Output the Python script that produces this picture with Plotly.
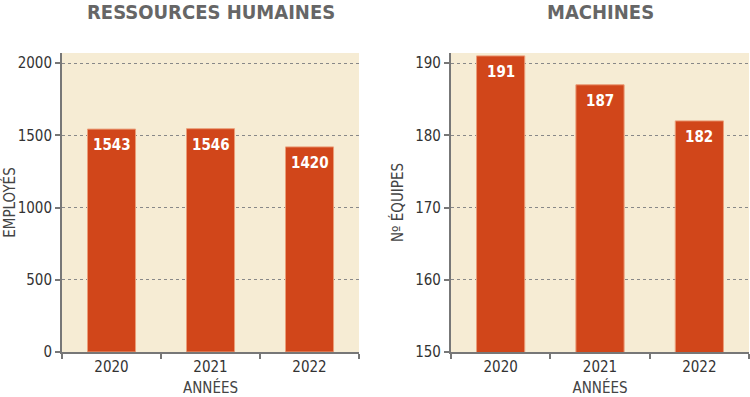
import plotly.graph_objects as go
from plotly.subplots import make_subplots

years = ["2020", "2021", "2022"]
employees = [1543, 1546, 1420]
machines = [191, 187, 182]

FONT = "DejaVu Sans Condensed, Liberation Sans Narrow, Roboto, sans-serif"
BAR = "#d1461a"
BG = "#f6ecd4"
GRID = "#888888"
AX = "#777777"

fig = make_subplots(rows=1, cols=2)

for vals, col in [(employees, 1), (machines, 2)]:
    fig.add_trace(go.Bar(x=years, y=vals, marker=dict(color=BAR, line=dict(color="#eb9d78", width=1)),
                         showlegend=False), row=1, col=col)
    sfx = "" if col == 1 else str(col)
    for i, v in enumerate(vals):
        fig.add_annotation(x=i, y=v, xref="x" + sfx, yref="y" + sfx, text=f"<b>{v}</b>", showarrow=False,
                           xanchor="center", yanchor="top", yshift=-5,
                           font=dict(family=FONT, size=15, color="white"))

ax_common = dict(showline=True, linecolor=AX, linewidth=2, ticks="outside", tickcolor=AX, ticklen=5,
                 tickwidth=1.5, tickfont=dict(family=FONT, size=15, color="#333333"), automargin=False)
fig.update_xaxes(**ax_common, type="category", tickson="boundaries", showgrid=False, tickangle=0,
                 title=dict(text="ANNÉES", font=dict(family=FONT, size=15, color="#444444"), standoff=16))
fig.update_yaxes(**ax_common, showgrid=True, gridcolor=GRID, griddash="dot", gridwidth=1, zeroline=False)

fig.update_layout(
    width=750, height=397, margin=dict(l=0, r=0, t=0, b=0),
    paper_bgcolor="white", plot_bgcolor=BG, bargap=0.515,
    xaxis=dict(domain=[0.0827, 0.4787]),
    xaxis2=dict(domain=[0.6013, 0.9987]),
    yaxis=dict(domain=[0.1134, 0.8665], range=[0, 2070], tickvals=[0, 500, 1000, 1500, 2000],
               title=dict(text="EMPLOYÉS", font=dict(family=FONT, size=15, color="#444444"), standoff=8)),
    yaxis2=dict(domain=[0.1134, 0.8665], range=[150, 191.4], tickvals=[150, 160, 170, 180, 190],
                title=dict(text="Nº ÉQUIPES", font=dict(family=FONT, size=15, color="#444444"), standoff=8)),
)

for xc, t in [(0.2807, "RESSOURCES HUMAINES"), (0.80, "MACHINES")]:
    fig.add_annotation(x=xc, y=1.0, xref="paper", yref="paper", yanchor="top", xanchor="center", yshift=2,
                       showarrow=False, text=f"<b>{t}</b>", font=dict(family=FONT, size=20, color="#666666"))

fig.write_html("out.html", config={"displayModeBar": False},
               post_script="document.body.style.margin='0';")
